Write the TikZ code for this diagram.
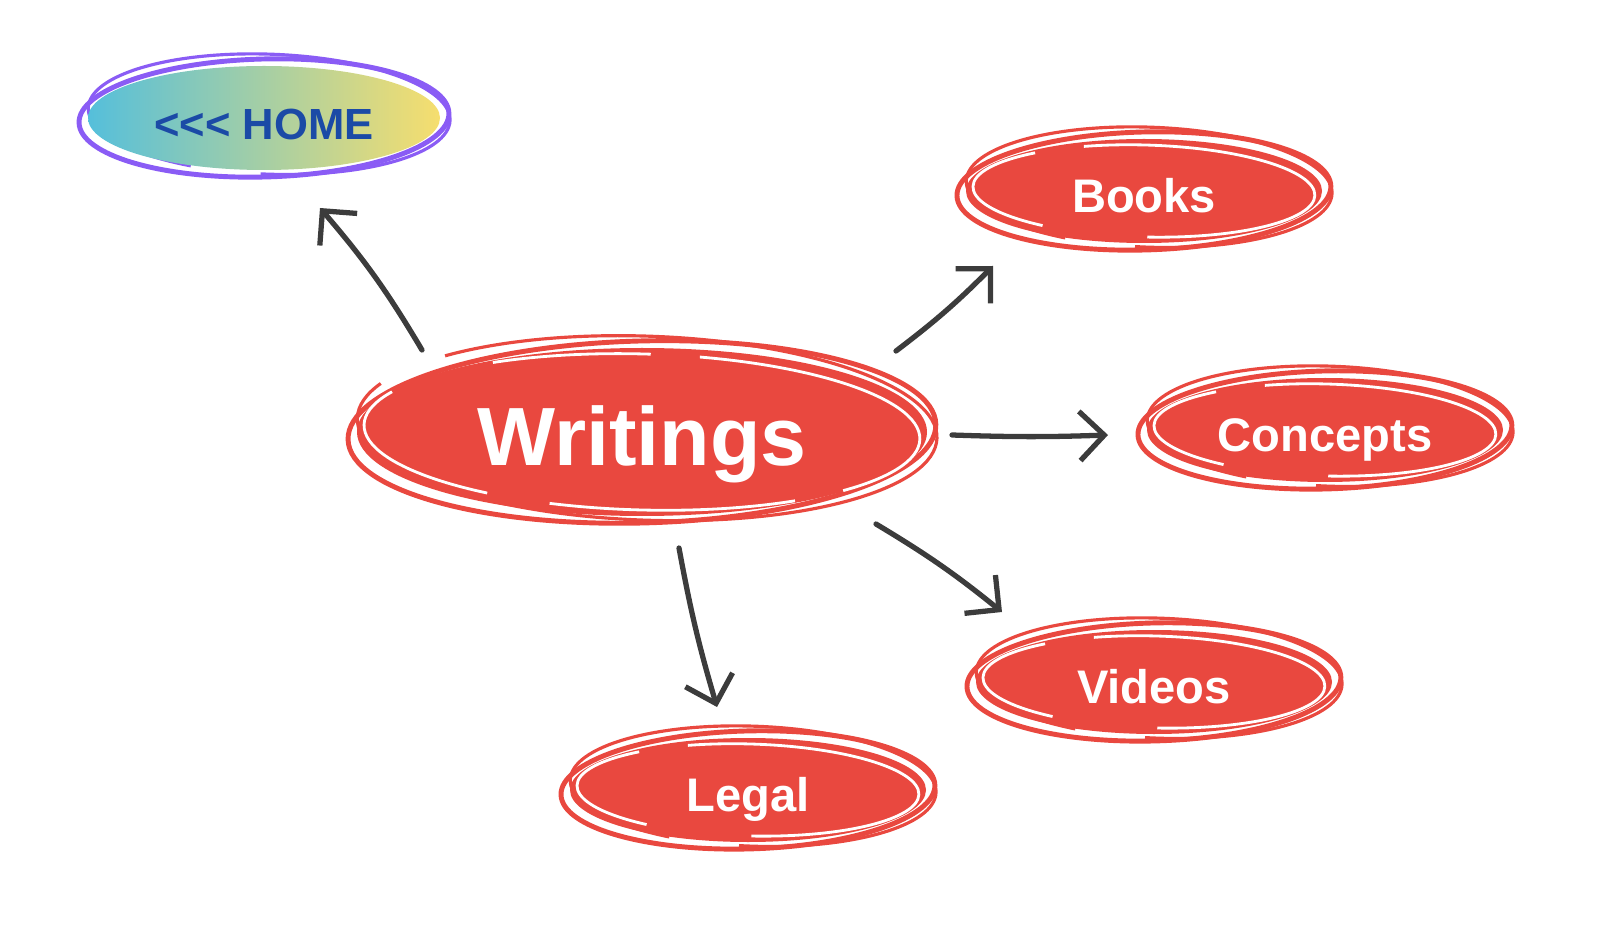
\documentclass[tikz,border=0pt]{standalone}
\usepackage{fontspec}
\setmainfont{Liberation Sans}
\usetikzlibrary{shapes.geometric,arrows.meta,calc}
\pgfdeclarelayer{bg}
\pgfsetlayers{bg,main}
\definecolor{nodered}{HTML}{E9483F}
\definecolor{ringpurple}{HTML}{8A5CF5}
\definecolor{homeL}{HTML}{55BFDB}
\definecolor{homeR}{HTML}{F6DE6E}
\definecolor{homeblue}{HTML}{1B4AA6}
\definecolor{arrowgray}{HTML}{3C3C3C}
\tikzset{
  bubble/.style={ellipse, inner sep=0pt, outer sep=0pt, text=white,
    font=\bfseries\fontsize{13.4}{16}\selectfont,
    text height=12.4pt, text depth=0pt,
    minimum width=3.5cm, minimum height=1cm},
  link/.style={draw=arrowgray, line width=1.5pt, line cap=round, line join=round,
    -{Straight Barb[length=7pt,width=14pt]}},
  hair/.style={white, line width=0.8pt, dash pattern=on 70pt off 14pt on 45pt off 30pt on 55pt off 18pt},
}
% #1 node name, #2 rx (px), #3 ry (px), #4 stroke colour, #5 fill options, #6 hairline options
\newcommand\sketchring[6]{%
\begin{pgfonlayer}{bg}
  \draw[#4, line width=1.4pt, rotate around={1.5:(#1.center)}]
    (#1.center) ellipse [x radius={(#2+12)*0.01cm}, y radius={(#3+9)*0.01cm}];
  \draw[#4, line width=0.9pt, rotate around={-2:(#1.center)},
        dash pattern=on 150pt off 20pt on 300pt off 10pt]
    ([shift={(5,-4)}]#1.center) ellipse [x radius={(#2+8)*0.01cm}, y radius={(#3+10)*0.01cm}];
  \path[#5] (#1.center) ellipse [x radius={(#2+3)*0.01cm}, y radius={(#3+2)*0.01cm}];
  \draw[#6, rotate around={-1.5:(#1.center)}]
    (#1.center) ellipse [x radius={(#2-4)*0.01cm}, y radius={(#3-4)*0.01cm}];
\end{pgfonlayer}}
\begin{document}
\begin{tikzpicture}[x=0.01cm,y=-0.01cm]
\useasboundingbox (0,0) rectangle (1606,946);
% nodes
\node[bubble, minimum width=5.64cm, minimum height=1.64cm,
      text height=19pt, text depth=0pt,
      font=\bfseries\fontsize{23.5}{28}\selectfont] (writings) at (642,432) {Writings};
\node[bubble, text=homeblue, font=\bfseries\fontsize{12.4}{15}\selectfont,
      text height=12.3pt, minimum width=3.46cm] (home) at (264,118) {<{}<{}< HOME};
\node[bubble] (books) at (1144,191) {Books};
\node[bubble] (concepts) at (1325,430) {Concepts};
\node[bubble] (videos) at (1154,682) {Videos};
\node[bubble] (legal) at (748,790) {Legal};
% sketchy outlines
\sketchring{writings}{282}{82}{nodered}{fill=nodered}{hair}
\sketchring{home}{173}{50}{ringpurple}{left color=homeL, right color=homeR}{draw=none}
\sketchring{books}{175}{50}{nodered}{fill=nodered}{hair}
\sketchring{concepts}{175}{50}{nodered}{fill=nodered}{hair}
\sketchring{videos}{175}{50}{nodered}{fill=nodered}{hair}
\sketchring{legal}{175}{50}{nodered}{fill=nodered}{hair}
% connectors
\draw[link] ([shift={(-220,-82)}]writings.center) to[bend right=5] ([shift={(56,90)}]home.center);
\draw[link] ([shift={(254,-81)}]writings.center) to[bend right=4] ([shift={(-151,75)}]books.center);
\draw[link] ([shift={(310,3)}]writings.center) to[bend right=2] ([shift={(-217,5)}]concepts.center);
\draw[link] ([shift={(234,92)}]writings.center) to[bend left=4] ([shift={(-152,-70)}]videos.center);
\draw[link] ([shift={(37,116)}]writings.center) to[bend right=3] ([shift={(-31,-83)}]legal.center);
\end{tikzpicture}
\end{document}
